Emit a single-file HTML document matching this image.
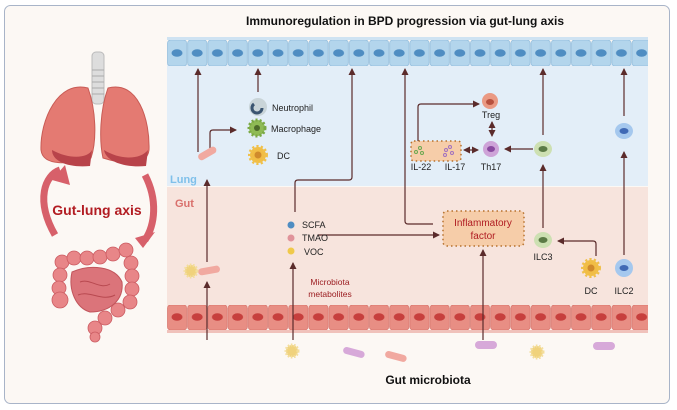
<!DOCTYPE html>
<html><head><meta charset="utf-8"><style>
html,body{margin:0;padding:0;background:#fff;}
svg{display:block;font-family:"Liberation Sans",sans-serif;}
</style></head><body>
<svg width="677" height="410" viewBox="0 0 677 410" xmlns="http://www.w3.org/2000/svg">
<defs>
<pattern id="lc" x="167" y="37" width="20.2" height="29" patternUnits="userSpaceOnUse">
<rect x="0.5" y="3" width="19.2" height="26" rx="3" fill="#b3d5ec" stroke="#8fbbdc" stroke-width="0.7"/>
<rect x="0" y="0" width="20.2" height="3" fill="#cfe3f2"/>
<ellipse cx="10" cy="16" rx="5.5" ry="3.8" fill="#4f8dc2"/>
</pattern>
<pattern id="gc" x="167" y="305" width="20.2" height="29" patternUnits="userSpaceOnUse">
<rect x="0.5" y="0" width="19.2" height="25" rx="3" fill="#e88e84" stroke="#d7736b" stroke-width="0.7"/>
<rect x="0" y="25" width="20.2" height="3" fill="#f0c2bb"/>
<ellipse cx="10" cy="12" rx="5.5" ry="3.8" fill="#c73f3d"/>
</pattern>
<marker id="a" markerWidth="8" markerHeight="8" refX="6" refY="4" orient="auto" markerUnits="userSpaceOnUse">
<path d="M0,0.5 L7,4 L0,7.5 Z" fill="#5b2b2b"/></marker>
<marker id="b" markerWidth="8" markerHeight="8" refX="1" refY="4" orient="auto" markerUnits="userSpaceOnUse">
<path d="M7,0.5 L0,4 L7,7.5 Z" fill="#5b2b2b"/></marker>
</defs>
<rect x="0" y="0" width="677" height="410" fill="#fff"/>
<rect x="4.5" y="5.5" width="665" height="398" rx="6" fill="#fcf8f4" stroke="#a8b4c8" stroke-width="1"/>
<text x="405" y="25" font-size="12" font-weight="bold" text-anchor="middle" fill="#111">Immunoregulation in BPD progression via gut-lung axis</text>
<rect x="167" y="64" width="481" height="122" fill="#e3eef8"/>
<rect x="167" y="187" width="481" height="120" fill="#f7e4dd"/>
<rect x="167" y="37" width="481" height="29" fill="url(#lc)"/>
<rect x="167" y="305" width="481" height="29" fill="url(#gc)"/>
<text x="170" y="183" font-size="11" font-weight="bold" fill="#7fc0ea">Lung</text>
<text x="175" y="207" font-size="11" font-weight="bold" fill="#d9706c">Gut</text>

<!-- lungs -->
<rect x="92" y="52" width="12" height="52" rx="4" fill="#ddd" stroke="#bbb"/>
<g stroke="#aaa" stroke-width="1"><line x1="92" y1="70" x2="104" y2="70"/><line x1="92" y1="76" x2="104" y2="76"/><line x1="92" y1="82" x2="104" y2="82"/><line x1="92" y1="88" x2="104" y2="88"/><line x1="92" y1="94" x2="104" y2="94"/></g>
<path d="M88,88 C58,80 40,120 41,150 C43,167 70,164 91,158 C97,140 96,110 88,88Z" fill="#e47a72" stroke="#c85b55"/>
<path d="M108,88 C138,80 150,120 149,150 C147,167 122,164 103,158 C99,140 100,110 108,88Z" fill="#e47a72" stroke="#c85b55"/>
<path d="M52,150 C70,160 88,158 92,150 L90,166 C70,168 52,162 52,150Z" fill="#b8434a"/>
<path d="M104,150 C120,160 140,160 148,150 L146,166 C126,168 106,162 104,150Z" fill="#b8434a"/>
<path d="M55,235 C35,200 45,175 60,170" fill="none" stroke="#d7606a" stroke-width="7"/>
<path d="M52,180 L65,165 L70,185Z" fill="#d7606a"/>
<path d="M145,175 C158,200 155,225 145,240" fill="none" stroke="#d7606a" stroke-width="7"/>
<path d="M135,238 L155,232 L143,248Z" fill="#d7606a"/>
<text x="97" y="215" font-size="14" font-weight="bold" fill="#b21c22" text-anchor="middle">Gut-lung axis</text>
<!-- intestine -->
<g fill="#e88688" stroke="#cc5c62" stroke-width="0.8">
<circle cx="62" cy="262" r="7"/><circle cx="74" cy="258" r="7"/><circle cx="87" cy="258" r="7"/><circle cx="100" cy="257" r="7"/><circle cx="113" cy="254" r="7"/><circle cx="126" cy="250" r="7"/>
<circle cx="131" cy="263" r="7"/><circle cx="132" cy="276" r="7"/><circle cx="132" cy="289" r="7"/><circle cx="130" cy="302" r="7"/>
<circle cx="60" cy="275" r="7"/><circle cx="59" cy="288" r="7"/><circle cx="60" cy="300" r="8"/>
<circle cx="118" cy="310" r="7"/><circle cx="105" cy="318" r="7"/><circle cx="95" cy="328" r="7"/><circle cx="95" cy="337" r="5"/>
</g>
<path d="M72,272 C90,264 115,266 122,282 C124,300 110,312 90,312 C76,308 68,290 72,272Z" fill="#db747a" stroke="#c2555c"/>
<path d="M80,282 C90,278 100,290 110,284 M78,295 C90,290 102,302 115,295" fill="none" stroke="#b84950"/>

<g stroke="#5b2b2b" stroke-width="1.2" fill="none">
<line x1="198" y1="152" x2="198" y2="69" marker-end="url(#a)"/>
<line x1="258" y1="92" x2="258" y2="69" marker-end="url(#a)"/>
<path d="M210,150 V133 Q210,130 213,130 H236" marker-end="url(#a)"/>
<line x1="207" y1="262" x2="207" y2="180" marker-end="url(#a)"/>
<line x1="207" y1="340" x2="207" y2="282" marker-end="url(#a)"/>
<path d="M295,212 V183 Q295,180 298,180 H349 Q352,180 352,177 V69" marker-end="url(#a)"/>
<line x1="293" y1="340" x2="293" y2="263" marker-end="url(#a)"/>
<line x1="318" y1="235" x2="439" y2="235" marker-end="url(#a)"/>
<line x1="483" y1="340" x2="483" y2="250" marker-end="url(#a)"/>
<path d="M433,224 H408 Q405,224 405,221 V69" marker-end="url(#a)"/>
<path d="M418,141 V107 Q418,104 421,104 H479" marker-end="url(#a)"/>
<line x1="492" y1="122" x2="492" y2="136" marker-end="url(#a)" marker-start="url(#b)"/>
<line x1="464" y1="150" x2="478" y2="150" marker-end="url(#a)" marker-start="url(#b)"/>
<line x1="533" y1="149" x2="505" y2="149" marker-end="url(#a)"/>
<line x1="543" y1="135" x2="543" y2="69" marker-end="url(#a)"/>
<line x1="543" y1="228" x2="543" y2="165" marker-end="url(#a)"/>
<path d="M596,256 V244 Q596,241 593,241 H558" marker-end="url(#a)"/>
<line x1="624" y1="255" x2="624" y2="152" marker-end="url(#a)"/>
<line x1="624" y1="116" x2="624" y2="69" marker-end="url(#a)"/>
</g>

<circle cx="258" cy="107" r="9" fill="#c9d4d8"/><path d="M254,104 a5,5 0 1,0 8,4" fill="none" stroke="#3a5470" stroke-width="3"/>
<text x="272" y="111" font-size="9" fill="#222">Neutrophil</text>
<circle cx="257" cy="128" r="8" fill="#8fbb55" stroke="#7aa844" stroke-dasharray="2 2" stroke-width="3"/><circle cx="257" cy="128" r="3" fill="#4d6b2a"/>
<text x="271" y="132" font-size="9" fill="#222">Macrophage</text>
<circle cx="258" cy="155" r="8" fill="#f1bd45" stroke="#f0c04a" stroke-dasharray="2 2" stroke-width="4"/><circle cx="258" cy="155" r="3.5" fill="#d08a2c"/>
<text x="277" y="159" font-size="9" fill="#222">DC</text>
<rect x="197" y="150" width="20" height="7" rx="3.5" fill="#f1a9a0" transform="rotate(-30 207 153)"/>
<rect x="198" y="267" width="22" height="7" rx="3.5" fill="#f1a9a0" transform="rotate(-10 209 270)"/>
<circle cx="191" cy="271" r="6" fill="#f0d27c" stroke="#f3dd9b" stroke-width="3" stroke-dasharray="1.5 1.5"/>

<circle cx="291" cy="225" r="3.5" fill="#4f8dc2"/><text x="302" y="228" font-size="9" fill="#222">SCFA</text>
<circle cx="291" cy="238" r="3.5" fill="#e0939a"/><text x="302" y="241" font-size="9" fill="#222">TMAO</text>
<circle cx="291" cy="251" r="3.5" fill="#f0c94a"/><text x="304" y="255" font-size="9" fill="#222">VOC</text>
<text x="330" y="285" font-size="8.5" fill="#9a1a1e" text-anchor="middle">Microbiota</text>
<text x="330" y="297" font-size="8.5" fill="#9a1a1e" text-anchor="middle">metabolites</text>

<rect x="443" y="211" width="81" height="35" rx="4" fill="#f6cda9" stroke="#b5702c" stroke-width="1.5" stroke-dasharray="1.5 3"/>
<text x="483" y="226" font-size="10" fill="#b01c22" text-anchor="middle">Inflammatory</text>
<text x="483" y="239" font-size="10" fill="#b01c22" text-anchor="middle">factor</text>

<rect x="411" y="141" width="50" height="20" rx="3" fill="#f6cda9" stroke="#b5702c" stroke-width="1.5" stroke-dasharray="1.5 3"/>
<g fill="none" stroke="#6aa84f"><circle cx="420" cy="148" r="1.5"/><circle cx="422" cy="153" r="1.5"/><circle cx="416" cy="152" r="1.5"/></g>
<g fill="none" stroke="#a070c0"><circle cx="446" cy="150" r="1.5"/><circle cx="450" cy="147" r="1.5"/><circle cx="452" cy="153" r="1.5"/><circle cx="445" cy="155" r="1.5"/></g>
<text x="421" y="170" font-size="9" fill="#222" text-anchor="middle">IL-22</text>
<text x="455" y="170" font-size="9" fill="#222" text-anchor="middle">IL-17</text>

<circle cx="490" cy="101" r="8" fill="#ea9983"/><ellipse cx="490" cy="102" rx="4" ry="3" fill="#b7503e"/>
<text x="491" y="118" font-size="9" fill="#222" text-anchor="middle">Treg</text>
<circle cx="491" cy="149" r="8" fill="#cea3d8"/><ellipse cx="491" cy="149" rx="4" ry="3" fill="#8a4aa0"/>
<text x="491" y="170" font-size="9" fill="#222" text-anchor="middle">Th17</text>
<ellipse cx="543" cy="149" rx="9" ry="8" fill="#cde0b2"/><ellipse cx="543" cy="149" rx="4.5" ry="3" fill="#5b7a45"/>
<ellipse cx="624" cy="131" rx="9" ry="8" fill="#a5c8ee"/><ellipse cx="624" cy="131" rx="4.5" ry="3" fill="#3f69b5"/>
<ellipse cx="543" cy="240" rx="9" ry="8" fill="#cde0b2"/><ellipse cx="543" cy="240" rx="4.5" ry="3" fill="#5b7a45"/>
<text x="543" y="260" font-size="9" fill="#222" text-anchor="middle">ILC3</text>
<circle cx="591" cy="268" r="8" fill="#f1bd45" stroke="#f0c04a" stroke-dasharray="2 2" stroke-width="4"/><circle cx="591" cy="268" r="3.5" fill="#d08a2c"/>
<text x="591" y="294" font-size="9" fill="#222" text-anchor="middle">DC</text>
<ellipse cx="624" cy="268" rx="9" ry="9" fill="#a5c8ee"/><ellipse cx="624" cy="268" rx="4.5" ry="3" fill="#3f69b5"/>
<text x="624" y="294" font-size="9" fill="#222" text-anchor="middle">ILC2</text>

<circle cx="292" cy="351" r="6" fill="#f0d27c" stroke="#f3dd9b" stroke-width="3" stroke-dasharray="1.5 1.5"/>
<rect x="343" y="349" width="22" height="7" rx="3.5" fill="#d7a9d9" transform="rotate(15 354 352)"/>
<rect x="385" y="353" width="22" height="7" rx="3.5" fill="#f1a9a0" transform="rotate(15 396 356)"/>
<rect x="475" y="341" width="22" height="8" rx="4" fill="#d7a9d9"/>
<circle cx="537" cy="352" r="6" fill="#f0d27c" stroke="#f3dd9b" stroke-width="3" stroke-dasharray="1.5 1.5"/>
<rect x="593" y="342" width="22" height="8" rx="4" fill="#d7a9d9"/>
<text x="428" y="384" font-size="12" font-weight="bold" fill="#111" text-anchor="middle">Gut microbiota</text>
</svg>
</body></html>
